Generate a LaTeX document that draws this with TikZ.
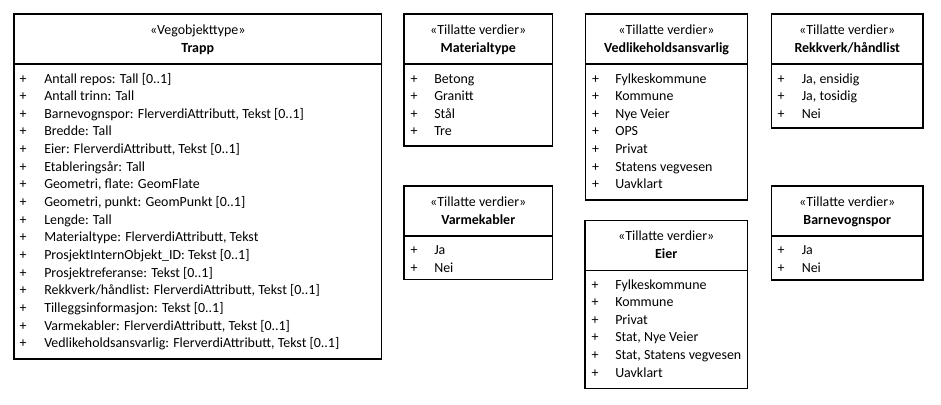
\documentclass[tikz,border=0pt]{standalone}
\usepackage{fontspec}
\setmainfont{Carlito}
\usepackage{tikz}

\tikzset{
  classbox/.style={draw=black, line width=0.8pt},
  stereo/.style={anchor=base, inner sep=0pt, font=\fontsize{10.45pt}{12pt}\selectfont},
  clsname/.style={anchor=base, inner sep=0pt, font=\fontsize{10.45pt}{12pt}\selectfont\bfseries},
  plussign/.style={anchor=base, inner sep=0pt, font=\fontsize{10.45pt}{12pt}\selectfont},
  attr/.style={anchor=base west, inner sep=0pt, font=\fontsize{10.45pt}{12pt}\selectfont}
}

\begin{document}
\begin{tikzpicture}[x=0.75pt,y=-0.75pt]
\useasboundingbox (0,0) rectangle (941,404);

% Trapp
\draw[classbox] (14,14) rectangle (381.5,359);
\draw[classbox] (14,64) -- (381.5,64);
\node[stereo] (trappst) at (197.75,34.5) {«Vegobjekttype»};
\node[clsname] (trappnm) at (197.75,52) {Trapp};
\foreach \t [count=\i from 0] in {Antall repos: Tall [0..1], Antall trinn: Tall,
  {Barnevognspor: FlerverdiAttributt, Tekst [0..1]}, Bredde: Tall,
  {Eier: FlerverdiAttributt, Tekst [0..1]}, Etableringsår: Tall,
  {Geometri, flate: GeomFlate}, {Geometri, punkt: GeomPunkt [0..1]}, Lengde: Tall,
  {Materialtype: FlerverdiAttributt, Tekst}, ProsjektInternObjekt\_ID: Tekst [0..1],
  Prosjektreferanse: Tekst [0..1], {Rekkverk/håndlist: FlerverdiAttributt, Tekst [0..1]},
  Tilleggsinformasjon: Tekst [0..1], {Varmekabler: FlerverdiAttributt, Tekst [0..1]},
  {Vedlikeholdsansvarlig: FlerverdiAttributt, Tekst [0..1]}}
{
  \node[plussign] (trappp\i) at (23,83+\i*17.65) {+};
  \node[attr] (trappa\i) at (44,83+\i*17.65) {\t};
}

% Materialtype
\draw[classbox] (404,14) rectangle (552.5,146);
\draw[classbox] (404,64) -- (552.5,64);
\node[stereo] (matst) at (478.25,34.5) {«Tillatte verdier»};
\node[clsname] (matnm) at (478.25,52) {Materialtype};
\foreach \t [count=\i from 0] in {Betong, Granitt, Stål, Tre}
{
  \node[plussign] (matp\i) at (414,83+\i*17.65) {+};
  \node[attr] (mata\i) at (434,83+\i*17.65) {\t};
}

% Vedlikeholdsansvarlig
\draw[classbox] (585.5,14) rectangle (747.5,200);
\draw[classbox] (585.5,64) -- (747.5,64);
\node[stereo] (vedst) at (666.5,34.5) {«Tillatte verdier»};
\node[clsname] (vednm) at (666.5,52) {Vedlikeholdsansvarlig};
\foreach \t [count=\i from 0] in {Fylkeskommune, Kommune, Nye Veier, OPS, Privat,
  Statens vegvesen, Uavklart}
{
  \node[plussign] (vedp\i) at (595.5,83+\i*17.65) {+};
  \node[attr] (veda\i) at (615,83+\i*17.65) {\t};
}

% Rekkverk/håndlist
\draw[classbox] (771.5,14) rectangle (923,128);
\draw[classbox] (771.5,64) -- (923,64);
\node[stereo] (rekst) at (847.25,34.5) {«Tillatte verdier»};
\node[clsname] (reknm) at (847.25,52) {Rekkverk/håndlist};
\foreach \t [count=\i from 0] in {{Ja, ensidig}, {Ja, tosidig}, Nei}
{
  \node[plussign] (rekp\i) at (781,83+\i*17.65) {+};
  \node[attr] (reka\i) at (801.5,83+\i*17.65) {\t};
}

% Varmekabler
\draw[classbox] (404,186) rectangle (552.5,279.5);
\draw[classbox] (404,236) -- (552.5,236);
\node[stereo] (varst) at (478.25,206.5) {«Tillatte verdier»};
\node[clsname] (varnm) at (478.25,224.5) {Varmekabler};
\foreach \t [count=\i from 0] in {Ja, Nei}
{
  \node[plussign] (varp\i) at (414,254.5+\i*17.65) {+};
  \node[attr] (vara\i) at (434,254.5+\i*17.65) {\t};
}

% Eier
\draw[classbox] (585,220.5) rectangle (747.5,388.5);
\draw[classbox] (585,270.5) -- (747.5,270.5);
\node[stereo] (eierst) at (666.25,240.5) {«Tillatte verdier»};
\node[clsname] (eiernm) at (666.25,258) {Eier};
\foreach \t [count=\i from 0] in {Fylkeskommune, Kommune, Privat, {Stat, Nye Veier},
  {Stat, Statens vegvesen}, Uavklart}
{
  \node[plussign] (eierp\i) at (595,289+\i*17.65) {+};
  \node[attr] (eiera\i) at (615,289+\i*17.65) {\t};
}

% Barnevognspor
\draw[classbox] (771.5,186) rectangle (923,280);
\draw[classbox] (771.5,236) -- (923,236);
\node[stereo] (barst) at (847.25,206.5) {«Tillatte verdier»};
\node[clsname] (barnm) at (847.25,224.5) {Barnevognspor};
\foreach \t [count=\i from 0] in {Ja, Nei}
{
  \node[plussign] (barp\i) at (781,254.5+\i*17.65) {+};
  \node[attr] (bara\i) at (801.5,254.5+\i*17.65) {\t};
}

\end{tikzpicture}
\end{document}
